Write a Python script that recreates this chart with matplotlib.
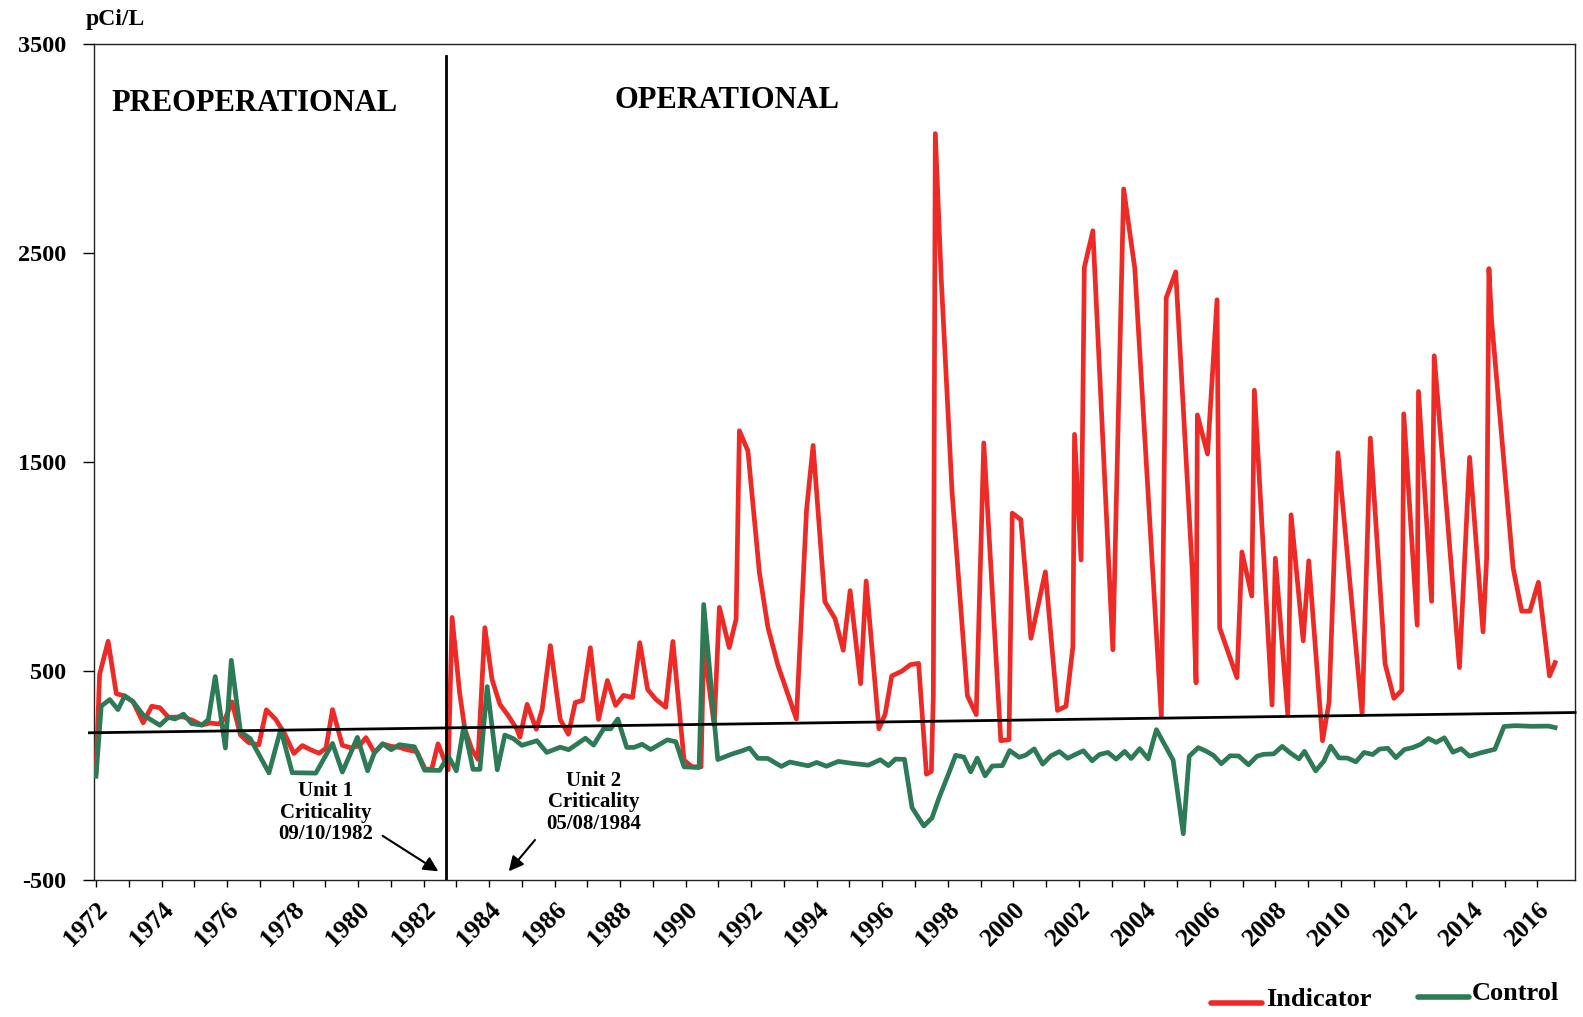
import matplotlib
matplotlib.use('Agg')
import matplotlib.pyplot as plt
from matplotlib.lines import Line2D

# ---------------- data ----------------
ind_years = [1972.00, 1972.11, 1972.37, 1972.62, 1972.85, 1973.13, 1973.44, 1973.70, 1973.95, 1974.21,
             1974.67, 1974.98, 1975.23, 1975.49, 1975.74, 1975.95, 1976.15, 1976.41, 1976.66, 1976.97,
             1977.20, 1977.48, 1977.74, 1978.04, 1978.30, 1978.55, 1978.81, 1979.02, 1979.22, 1979.52,
             1979.78, 1980.04, 1980.24, 1980.50, 1980.75, 1981.01, 1981.26, 1981.52, 1981.80, 1982.05,
             1982.25, 1982.44, 1982.75, 1982.87, 1983.10, 1983.26, 1983.47, 1983.66, 1983.87, 1984.09,
             1984.33, 1984.58, 1984.85, 1984.94, 1985.16, 1985.44, 1985.62, 1985.87, 1986.17, 1986.42,
             1986.63, 1986.85, 1987.09, 1987.34, 1987.61, 1987.86, 1988.10, 1988.38, 1988.60, 1988.84,
             1989.09, 1989.39, 1989.61, 1989.95, 1990.20, 1990.47, 1990.55, 1990.87, 1991.03, 1991.33,
             1991.54, 1991.64, 1991.90, 1992.25, 1992.51, 1992.82, 1993.38, 1993.69, 1993.89, 1994.25,
             1994.56, 1994.81, 1995.02, 1995.34, 1995.51, 1995.90, 1996.09, 1996.29, 1996.60, 1996.86,
             1997.11, 1997.35, 1997.50, 1997.56, 1997.62, 1997.80, 1998.13, 1998.60, 1998.87, 1999.10,
             1999.62, 1999.87, 1999.97, 2000.23, 2000.54, 2000.98, 2001.35, 2001.61, 2001.82, 2001.87,
             2002.07, 2002.17, 2002.43, 2003.04, 2003.37, 2003.71, 2004.52, 2004.67, 2004.96, 2005.47,
             2005.58, 2005.62, 2005.93, 2006.22, 2006.30, 2006.83, 2006.98, 2007.28, 2007.36, 2007.90,
             2008.00, 2008.38, 2008.48, 2008.85, 2009.02, 2009.44, 2009.64, 2009.91, 2010.65, 2010.90,
             2011.35, 2011.62, 2011.86, 2011.92, 2012.33, 2012.37, 2012.77, 2012.85, 2013.62, 2013.93,
             2014.34, 2014.45, 2014.52, 2014.60, 2015.26, 2015.52, 2015.77, 2016.03, 2016.37, 2016.54]
ind_vals = [14, 482, 641, 390, 380, 352, 251, 330, 323, 277,
            279, 260, 240, 250, 245, 273, 351, 192, 156, 145,
            313, 268, 204, 104, 142, 122, 105, 129, 314, 143,
            131, 141, 180, 108, 150, 138, 133, 121, 112, 28,
            30, 150, 26, 755, 394, 220, 124, 76, 706, 458,
            339, 286, 220, 182, 339, 220, 315, 620, 267, 196,
            348, 358, 610, 267, 453, 334, 382, 372, 634, 410,
            363, 325, 640, 72, 40, 40, 620, 240, 803, 611,
            747, 1648, 1552, 971, 708, 524, 269, 1269, 1578, 830,
            749, 598, 883, 438, 929, 222, 293, 475, 498, 529,
            535, 5, 18, 383, 3070, 2380, 1360, 380, 290, 1590,
            165, 170, 1254, 1223, 655, 973, 310, 330, 615, 1631,
            1030, 2430, 2605, 600, 2805, 2425, 280, 2285, 2408, 965,
            442, 1724, 1537, 2275, 705, 467, 1068, 857, 1842, 336,
            1038, 289, 1246, 643, 1026, 165, 349, 1543, 290, 1613,
            533, 368, 406, 1729, 718, 1836, 832, 2007, 515, 1521,
            686, 1037, 2424, 2177, 990, 785, 785, 923, 475, 539]

ctl_years = [1972.00, 1972.16, 1972.42, 1972.67, 1972.88, 1973.13, 1973.44, 1973.95, 1974.21, 1974.41,
             1974.67, 1974.92, 1975.23, 1975.43, 1975.64, 1975.95, 1976.13, 1976.41, 1976.71, 1977.28,
             1977.64, 1977.99, 1978.71, 1979.22, 1979.52, 1979.98, 1980.29, 1980.50, 1980.75, 1981.01,
             1981.26, 1981.72, 1982.03, 1982.49, 1982.75, 1983.00, 1983.23, 1983.51, 1983.72, 1983.94,
             1984.25, 1984.48, 1984.74, 1985.00, 1985.46, 1985.76, 1986.17, 1986.43, 1986.94, 1987.19,
             1987.50, 1987.71, 1987.93, 1988.20, 1988.42, 1988.67, 1988.93, 1989.44, 1989.70, 1989.95,
             1990.41, 1990.55, 1990.98, 1991.39, 1991.69, 1991.95, 1992.20, 1992.51, 1992.92, 1993.18,
             1993.74, 1994.00, 1994.30, 1994.66, 1995.07, 1995.58, 1995.94, 1996.19, 1996.40, 1996.68,
             1996.91, 1997.27, 1997.52, 1997.73, 1998.03, 1998.24, 1998.49, 1998.70, 1998.90, 1999.14,
             1999.36, 1999.67, 1999.89, 2000.18, 2000.38, 2000.64, 2000.90, 2001.15, 2001.41, 2001.66,
             2001.92, 2002.14, 2002.41, 2002.63, 2002.89, 2003.14, 2003.40, 2003.60, 2003.86, 2004.12,
             2004.37, 2004.88, 2005.19, 2005.37, 2005.65, 2005.90, 2006.11, 2006.35, 2006.62, 2006.88,
             2007.18, 2007.44, 2007.64, 2007.95, 2008.21, 2008.46, 2008.72, 2008.89, 2009.23, 2009.48,
             2009.69, 2009.94, 2010.20, 2010.46, 2010.71, 2010.97, 2011.18, 2011.43, 2011.68, 2011.94,
             2012.19, 2012.45, 2012.67, 2012.91, 2013.16, 2013.42, 2013.67, 2013.93, 2014.29, 2014.70,
             2014.98, 2015.31, 2015.83, 2016.34, 2016.54]
ctl_vals = [-5, 331, 362, 314, 380, 352, 288, 239, 277, 269,
            292, 247, 240, 266, 472, 130, 550, 208, 175, 11,
            220, 12, 10, 152, 15, 181, 21, 108, 150, 122,
            146, 136, 24, 23, 93, 21, 235, 28, 28, 424,
            26, 192, 175, 143, 165, 109, 134, 122, 177, 144,
            223, 222, 269, 133, 133, 148, 123, 169, 160, 40,
            37, 817, 75, 100, 115, 130, 81, 80, 42, 63,
            45, 61, 43, 66, 57, 48, 74, 46, 77, 76,
            -155, -243, -204, -110, 9, 95, 87, 16, 82, -3,
            44, 46, 118, 86, 96, 126, 53, 93, 113, 81,
            101, 117, 69, 99, 109, 77, 114, 80, 127, 78,
            218, 72, -280, 91, 132, 114, 95, 55, 93, 92,
            50, 91, 100, 102, 138, 106, 78, 114, 21, 67,
            139, 83, 82, 64, 109, 99, 125, 129, 84, 123,
            132, 149, 176, 157, 179, 110, 127, 91, 108, 124,
            233, 237, 234, 235, 228]

trend_years = [1971.8, 2017.15]
trend_vals = [203, 300]
crit_year = 1982.69
crit_line_top = 3440
ytick_vals = [-500, 500, 1500, 2500, 3500]
xtick_years = list(range(1972, 2017))
xtick_labels = [str(y) if y % 2 == 0 else '' for y in xtick_years]

# ---------------- style ----------------
RED = '#EE2A26'
GREEN = '#2C7A56'
plt.rcParams['font.family'] = ['Liberation Serif', 'DejaVu Serif']
plt.rcParams['font.weight'] = 'bold'

fig = plt.figure(figsize=(15.83, 10.17), dpi=100)
ax = fig.add_axes([0.0594, 0.135, 0.9356, 0.822])

ax.plot(ind_years, ind_vals, color=RED, lw=3.4, zorder=3)
ax.plot(ctl_years, ctl_vals, color=GREEN, lw=3.4, zorder=4)
ax.plot(trend_years, trend_vals, color='black', lw=2.0, zorder=5, clip_on=False)
ax.plot([crit_year, crit_year], [-500, crit_line_top], color='black', lw=2.0, zorder=5)

ax.set_xlim(1971.94, 2017.15)
ax.set_ylim(-500, 3500)
ax.set_yticks(ytick_vals)
ax.set_yticklabels([str(v) for v in ytick_vals], fontsize=17.5, fontweight='bold')
ax.set_xticks(xtick_years)
ax.set_xticklabels(xtick_labels, fontsize=18.5, fontweight='bold',
                   rotation=45, ha='right', va='top', rotation_mode='anchor')
ax.tick_params(axis='y', direction='out', length=8, width=1, pad=12)
ax.tick_params(axis='x', direction='out', length=5, width=1, pad=8)
for s in ax.spines.values():
    s.set_linewidth(1.0)
    s.set_color('#222222')

# region labels
ax.text(1976.83, 3215, 'PREOPERATIONAL', ha='center', va='center', fontsize=22, fontweight='bold')
ax.text(1991.26, 3228, 'OPERATIONAL', ha='center', va='center', fontsize=22, fontweight='bold')

# criticality annotations
ax.text(1979.0, -180, 'Unit 1\nCriticality\n09/10/1982', ha='center', va='center',
        fontsize=15, fontweight='bold', linespacing=1.1)
ax.text(1987.2, -130, 'Unit 2\nCriticality\n05/08/1984', ha='center', va='center',
        fontsize=15, fontweight='bold', linespacing=1.1)
ax.annotate('', xy=(1982.45, -460), xytext=(1980.75, -290),
            arrowprops=dict(arrowstyle='-|>', color='black', lw=1.5, mutation_scale=22,
                            shrinkA=0, shrinkB=0))
ax.annotate('', xy=(1984.6, -460), xytext=(1985.4, -310),
            arrowprops=dict(arrowstyle='-|>', color='black', lw=1.5, mutation_scale=22,
                            shrinkA=0, shrinkB=0))

# unit label
fig.text(86 / 1583, 1 - 19 / 1017, 'pCi/L', fontsize=17, fontweight='bold', ha='left', va='center')

# legend
W, H = 1583.0, 1017.0
fig.add_artist(Line2D([1211 / W, 1262 / W], [1 - 1003 / H] * 2, color=RED, lw=4,
                      transform=fig.transFigure, solid_capstyle='round'))
fig.text(1266 / W, 1 - 1000 / H, 'Indicator', fontsize=19, fontweight='bold', ha='left', va='center')
fig.add_artist(Line2D([1418 / W, 1469 / W], [1 - 997 / H] * 2, color=GREEN, lw=4,
                      transform=fig.transFigure, solid_capstyle='round'))
fig.text(1472 / W, 1 - 994 / H, 'Control', fontsize=19, fontweight='bold', ha='left', va='center')

fig.savefig('out.png', dpi=100)
